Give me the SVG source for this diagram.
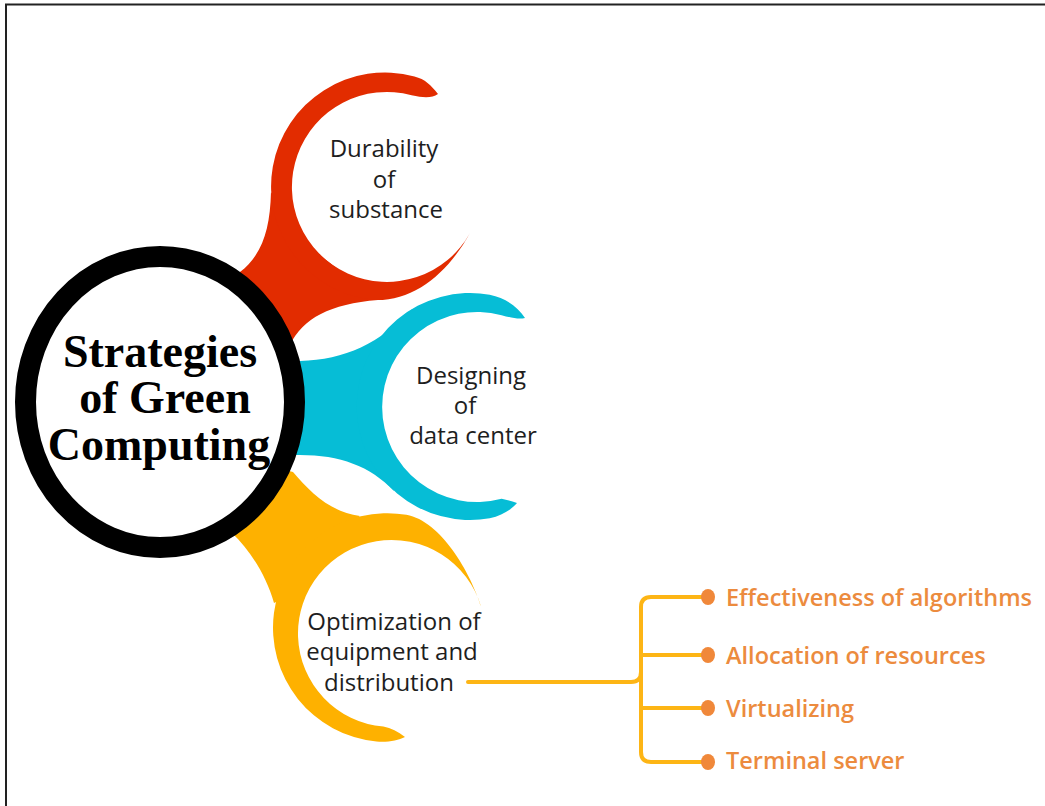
<svg xmlns="http://www.w3.org/2000/svg" width="1045" height="806" viewBox="0 0 1045 806">
<style>
.red{fill:#E22C00}
.cyan{fill:#06BDD6}
.yel{fill:#FEB100}
.pt{font-family:"Open Sans","Liberation Sans",sans-serif;font-size:24px;fill:#1e1e1e;text-anchor:middle}
.ct{font-family:"Liberation Serif","DejaVu Serif",serif;font-size:46px;font-weight:bold;fill:#000;text-anchor:middle}
.lt{font-family:"Open Sans","Liberation Sans",sans-serif;font-size:23.5px;font-weight:600;fill:#EC8B3E}
.ln{fill:none;stroke:#FDB515;stroke-width:4;stroke-linecap:round}
.dot{fill:#F0883A}
</style>
<rect width="1045" height="806" fill="#fff"/>
<path d="M6,806 V4.5 H1045" fill="none" stroke="#222" stroke-width="2"/>

<g id="node-durability">
<path class="red" d="M271,192 C270,230 262,255 240,272 L228,290 L282,352 L290,345 C303,318 330,304 378,300 L300,240 Z"/>
<path class="red" d="M438,94 C431,85 425,79 414.5,76.4 A114 114 0 1 0 375.1,300.1 C415,301 448.2,272.4 470,233 A95 95 0 1 1 411.6,95.2 C424,98 432,98 438,94 Z"/>
<text class="pt" x="384" y="157">Durability</text>
<text class="pt" x="384" y="188">of</text>
<text class="pt" x="386" y="218">substance</text>
</g>

<g id="node-designing">
<path class="cyan" d="M285,361 L300,361 C345,360 380,343 412,309 L372,407 L394,491 C370,466 340,455 300,455 L285,455 Z"/>
<path class="cyan" d="M525,318 C518,307 506,298 489.7,294.7 A113.5 113.5 0 1 0 489.7,518.3 C503,515 512,509 517,503 C512,501 507,500 501.6,498.8 A95 95 0 1 1 501.6,315.2 C512,318 519,319.5 525,318 Z"/>
<text class="pt" x="471" y="384">Designing</text>
<text class="pt" x="465" y="414">of</text>
<text class="pt" x="473" y="444">data center</text>
</g>

<g id="node-optimization">
<path class="yel" d="M220,525 L232,533 C250,550 266,575 274,603 L300,590 L330,540 L360,516 C330,512 310,492 293,472 L278,468 Z"/>
<path class="yel" d="M481.2,607.1 C471.1,573.4 440.9,520.8 406.4,514.7 A114.5 114.5 0 1 0 376.5,741.6 C388,742.5 398,740.5 405,737 C398,732 391,728 383.4,726.6 A93.5 93.5 0 1 1 481.2,607.1 Z"/>
<text class="pt" x="394" y="630">Optimization of</text>
<text class="pt" x="392" y="660">equipment and</text>
<text class="pt" x="389" y="691">distribution</text>
</g>

<g id="node-center">
<ellipse cx="160" cy="402" rx="134.5" ry="145.5" fill="#fff" stroke="#000" stroke-width="21"/>
<text class="ct" x="160" y="367">Strategies</text>
<text class="ct" x="165" y="413">of Green</text>
<text class="ct" x="159" y="460">Computing</text>
</g>

<g id="connectors">
<path class="ln" d="M468,682 H631 Q641,682 641,672"/>
<path class="ln" d="M708,597 H651 Q641,597 641,607 V752 Q641,762 651,762 H708"/>
<path class="ln" d="M641,655 H708 M641,708 H708"/>
</g>

<g id="node-effectiveness">
<ellipse class="dot" cx="708" cy="597" rx="7" ry="8"/>
<text class="lt" x="726" y="606">Effectiveness of algorithms</text>
</g>
<g id="node-allocation">
<ellipse class="dot" cx="708" cy="655" rx="7" ry="8"/>
<text class="lt" x="726" y="664">Allocation of resources</text>
</g>
<g id="node-virtualizing">
<ellipse class="dot" cx="708" cy="708" rx="7" ry="8"/>
<text class="lt" x="726" y="717">Virtualizing</text>
</g>
<g id="node-terminal">
<ellipse class="dot" cx="708" cy="762" rx="7" ry="8"/>
<text class="lt" x="726" y="769">Terminal server</text>
</g>
</svg>
